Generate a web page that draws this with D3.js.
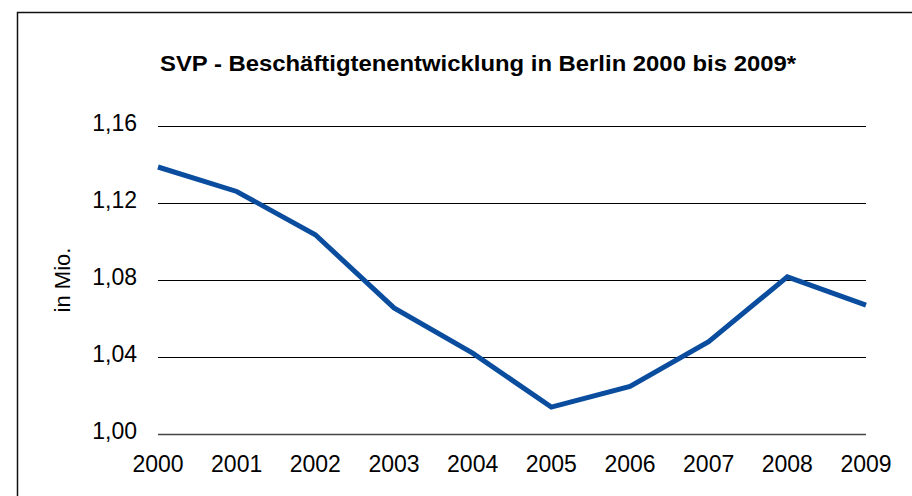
<!DOCTYPE html>
<html>
<head>
<meta charset="utf-8">
<script src="https://cdn.jsdelivr.net/npm/d3@7"></script>
<style>
  body { margin: 0; background: #fff; }
  text { font-family: "Liberation Sans", Arial, Helvetica, sans-serif; fill: #000; }
</style>
</head>
<body>
<div id="chart"></div>
<script>
const years = [2000, 2001, 2002, 2003, 2004, 2005, 2006, 2007, 2008, 2009];
const employed = [1.1387, 1.126, 1.1035, 1.0655, 1.042, 1.014, 1.0247, 1.048, 1.0816, 1.067];
const yTicks = [1.00, 1.04, 1.08, 1.12, 1.16];
const title = "SVP - Beschäftigtenentwicklung in Berlin 2000 bis 2009*";
const yLabel = "in Mio.";

const W = 912, H = 496;
const margin = {top: 126, right: 46, bottom: 62, left: 158};
const width = W - margin.left - margin.right;
const height = H - margin.top - margin.bottom;

const svg = d3.select("#chart")
    .append("svg")
    .attr("width", W)
    .attr("height", H);

// outer frame (only top and left edges inside the picture)
svg.append("path")
    .attr("d", `M17.5,${H + 5}V12.5H${W + 5}`)
    .attr("fill", "none")
    .attr("stroke", "#111")
    .attr("stroke-width", 1.5);

svg.append("text")
    .attr("x", 160)
    .attr("y", 71)
    .attr("textLength", 636)
    .attr("lengthAdjust", "spacingAndGlyphs")
    .style("font-size", "22px")
    .style("font-weight", "bold")
    .text(title);

const g = svg.append("g")
    .attr("transform", `translate(${margin.left},${margin.top})`);

const xScale = d3.scalePoint().domain(years).range([0, width]);
const yScale = d3.scaleLinear().domain([1.00, 1.16]).range([height, 0]);

// grid lines
g.append("g")
    .selectAll("line")
    .data(yTicks)
    .enter()
    .append("line")
    .attr("x1", 0)
    .attr("x2", width)
    .attr("y1", d => Math.round(yScale(d)) + 0.5)
    .attr("y2", d => Math.round(yScale(d)) + 0.5)
    .attr("stroke", d => d === 1.00 ? "#444" : "#000")
    .attr("stroke-width", d => d === 1.00 ? 1.5 : 1);

// y tick labels
g.append("g")
    .selectAll("text")
    .data(yTicks)
    .enter()
    .append("text")
    .attr("x", -21)
    .attr("y", d => yScale(d) - 3)
    .attr("dy", "0.35em")
    .attr("text-anchor", "end")
    .style("font-size", "23px")
    .text(d => d.toFixed(2).replace(".", ","));

// x tick labels
g.append("g")
    .selectAll("text")
    .data(years)
    .enter()
    .append("text")
    .attr("x", d => xScale(d))
    .attr("y", height + 38)
    .attr("text-anchor", "middle")
    .style("font-size", "23px")
    .text(d => d);

svg.append("text")
    .attr("transform", "translate(70,280) rotate(-90)")
    .attr("text-anchor", "middle")
    .style("font-size", "22px")
    .text(yLabel);

const line = d3.line()
    .x((d, i) => xScale(years[i]))
    .y(d => yScale(d));

g.append("path")
    .datum(employed)
    .attr("fill", "none")
    .attr("stroke", "#0a4d9f")
    .attr("stroke-width", 5)
    .attr("stroke-linejoin", "miter")
    .attr("d", line);
</script>
</body>
</html>
